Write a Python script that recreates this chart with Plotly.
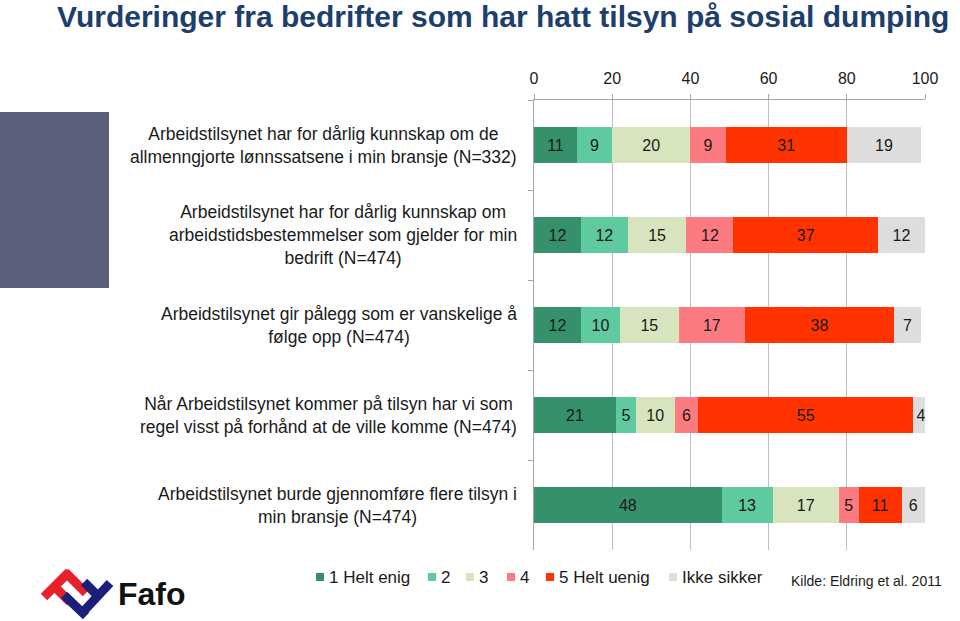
import plotly.graph_objects as go

# ---------------- data ----------------
categories = [
    "Arbeidstilsynet har for dårlig kunnskap om de<br>allmenngjorte lønnssatsene i min bransje (N=332)",
    "Arbeidstilsynet har for dårlig kunnskap om<br>arbeidstidsbestemmelser som gjelder for min<br>bedrift (N=474)",
    "Arbeidstilsynet gir pålegg som er vanskelige å<br>følge opp (N=474)",
    "Når Arbeidstilsynet kommer på tilsyn har vi som<br>regel visst på forhånd at de ville komme (N=474)",
    "Arbeidstilsynet burde gjennomføre flere tilsyn i<br>min bransje (N=474)",
]
series_names = ["1 Helt enig", "2", "3", "4", "5 Helt uenig", "Ikke sikker"]
helt_enig = [11, 12, 12, 21, 48]
val_2 = [9, 12, 10, 5, 13]
val_3 = [20, 15, 15, 10, 17]
val_4 = [9, 12, 17, 6, 5]
helt_uenig = [31, 37, 38, 55, 11]
ikke_sikker = [19, 12, 7, 4, 6]
series_values = [helt_enig, val_2, val_3, val_4, helt_uenig, ikke_sikker]
x_ticks = [0, 20, 40, 60, 80, 100]

colors = ["#35906c", "#5fc9a0", "#d7e4bd", "#fb7b80", "#ff3300", "#dddddd"]

FONT = "Liberation Sans, Arial, sans-serif"
W, H = 960, 621
L, R, T, B = 534, 35, 100, 71


def px(x):
    return (x - L) / (W - L - R)


def py(y):
    return (H - B - y) / (H - T - B)


fig = go.Figure()
for name, vals, col in zip(series_names, series_values, colors):
    fig.add_trace(go.Bar(
        y=categories, x=vals, name=name, orientation="h",
        marker=dict(color=col, line=dict(width=0)),
        text=[str(v) for v in vals], textposition="inside",
        insidetextanchor="middle",
        textfont=dict(size=16, color="#1a1a1a", family=FONT),
        hoverinfo="skip", showlegend=False,
    ))

# category labels (centered multi-line text)
annotations = []
for cat in categories:
    annotations.append(dict(
        x=px(519), xref="paper", y=cat, yref="y",
        text=cat, showarrow=False, xanchor="right", yanchor="middle",
        align="center",
        font=dict(size=17.5, color="#1a1a1a", family=FONT),
    ))

# legend (squares + labels) below the chart
legend_square_x = [316, 428, 466, 507, 546, 669]
legend_y = 577
shapes = []
for name, col, lx in zip(series_names, colors, legend_square_x):
    shapes.append(dict(type="rect", xref="paper", yref="paper",
                       x0=px(lx), x1=px(lx + 8), y0=py(legend_y + 4), y1=py(legend_y - 4),
                       fillcolor=col, line=dict(width=0)))
    annotations.append(dict(
        x=px(lx + 11), xref="paper", y=py(legend_y), yref="paper",
        text=name, showarrow=False, xanchor="left", yanchor="middle",
        font=dict(size=17, color="#1a1a1a", family=FONT),
    ))

annotations.append(dict(
    x=px(789), xref="paper", y=py(581), yref="paper",
    text="Kilde: Eldring et al. 2011", showarrow=False,
    xanchor="left", yanchor="middle",
    font=dict(size=14, color="#1a1a1a", family=FONT),
))
annotations.append(dict(
    x=px(116), xref="paper", y=py(594), yref="paper",
    text="<b>Fafo</b>", showarrow=False,
    xanchor="left", yanchor="middle",
    font=dict(size=32, color="#111111", family=FONT),
))

# dark block on the left
shapes.append(dict(type="rect", xref="paper", yref="paper",
                   x0=px(0), x1=px(109), y0=py(112), y1=py(288),
                   fillcolor="#5b5e7a", line=dict(width=0), layer="below"))

# logo symbol
red_lines = [((44, 597), (69, 572)), ((65, 572), (86, 593)), ((54, 586), (70, 602))]
blue_lines = [((110, 583), (82, 613)), ((86, 616), (64, 595)), ((98, 596), (84, 582))]
for (a, b) in red_lines:
    shapes.append(dict(type="line", xref="paper", yref="paper",
                       x0=px(a[0]), y0=py(a[1]), x1=px(b[0]), y1=py(b[1]),
                       line=dict(color="#e8202a", width=9)))
for (a, b) in blue_lines:
    shapes.append(dict(type="line", xref="paper", yref="paper",
                       x0=px(a[0]), y0=py(a[1]), x1=px(b[0]), y1=py(b[1]),
                       line=dict(color="#1c1f7a", width=9)))

fig.update_layout(
    width=W, height=H,
    margin=dict(l=L, r=R, t=T, b=B, autoexpand=False),
    paper_bgcolor="white", plot_bgcolor="white",
    barmode="stack", bargap=0.6,
    font=dict(family=FONT, color="#1a1a1a"),
    title=dict(
        text="Vurderinger fra bedrifter som har hatt tilsyn på sosial dumping",
        x=57 / W, xanchor="left", xref="container",
        y=1 - 16 / H, yanchor="middle", yref="container",
        font=dict(size=30, color="#1c3f6e", weight="bold", family=FONT),
    ),
    xaxis=dict(
        side="top", range=[0, 100], tickvals=x_ticks,
        showgrid=True, gridcolor="#bfbfbf", gridwidth=1,
        showline=True, linecolor="#a6a6a6", linewidth=1,
        ticks="outside", ticklen=5, tickcolor="#a6a6a6",
        tickfont=dict(size=16, color="#1a1a1a"),
        ticklabelstandoff=4,
        zeroline=False, fixedrange=True, automargin=False,
    ),
    yaxis=dict(
        autorange="reversed", showticklabels=False,
        showline=True, linecolor="#a6a6a6", linewidth=1,
        ticks="outside", ticklen=5, tickcolor="#a6a6a6",
        tickson="boundaries", showgrid=False, fixedrange=True,
        automargin=False,
    ),
    showlegend=False,
    uniformtext=dict(minsize=16, mode="show"),
    annotations=annotations,
    shapes=shapes,
)

fig.write_html("out.html", config={"displayModeBar": False},
               post_script="document.body.style.margin='0px';")
